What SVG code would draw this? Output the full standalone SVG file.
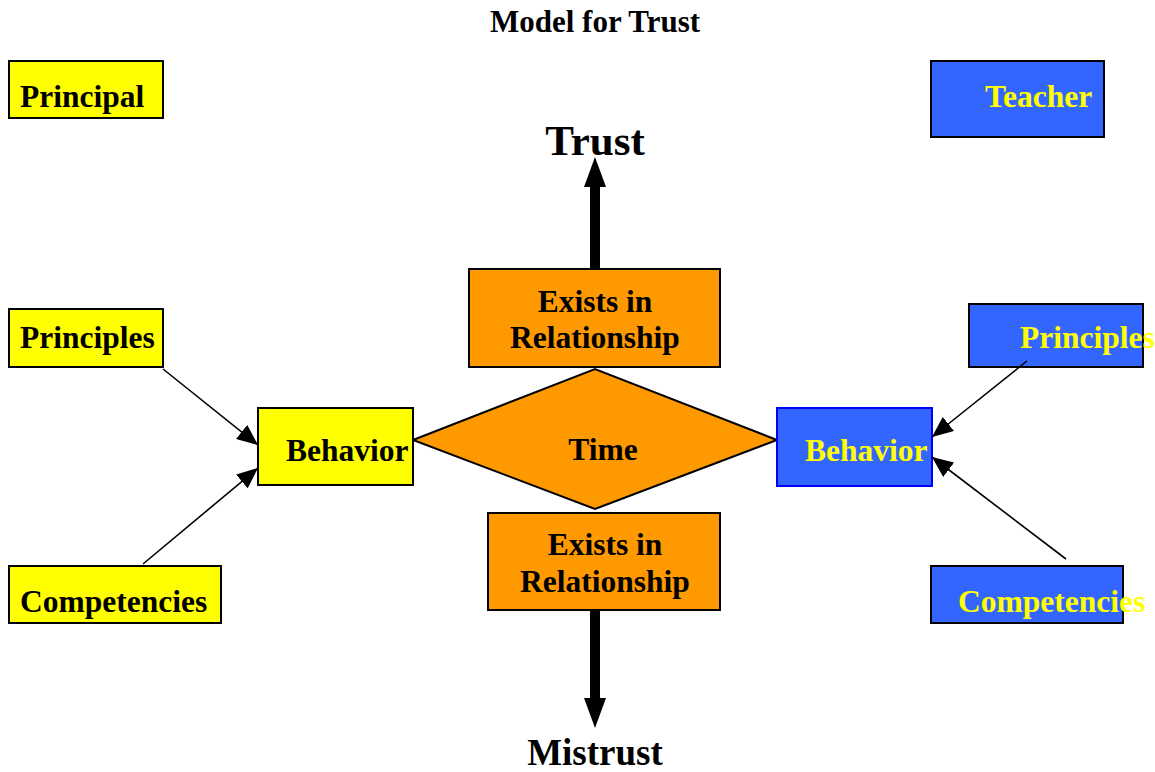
<svg xmlns="http://www.w3.org/2000/svg" width="1155" height="772" viewBox="0 0 1155 772">
<style>
text{font-family:"Liberation Serif","Times New Roman",serif;font-weight:bold;font-size:31.5px;}
.dark{fill:#000;}
.lite{fill:#FFFF00;}
.yel{fill:#FFFF00;stroke:#000;stroke-width:2;}
.blu{fill:#3366FF;stroke:#000;stroke-width:2;}
.org{fill:#FF9900;stroke:#000;stroke-width:2;}
.thin{stroke:#000;stroke-width:1.6;fill:none;marker-end:url(#ah);}
</style>
<defs>
<marker id="ah" markerUnits="userSpaceOnUse" markerWidth="22" markerHeight="18" refX="21" refY="9" orient="auto">
<path d="M0,0 L21,9 L0,18 Z" fill="#000"/>
</marker>
</defs>
<rect width="1155" height="772" fill="#fff"/>
<text x="595" y="32" text-anchor="middle" class="dark" style="font-size:31px">Model for Trust</text>

<g id="principal"><rect x="9" y="61" width="154" height="57" class="yel"/><text x="20" y="107" class="dark">Principal</text></g>
<g id="teacher"><rect x="931" y="61" width="173" height="76" class="blu"/><text x="985" y="107" class="lite">Teacher</text></g>
<g id="trust"><text x="595" y="155" text-anchor="middle" class="dark" style="font-size:43px">Trust</text></g>
<g id="rel-top"><rect x="469" y="269" width="251" height="98" class="org"/><text x="595" y="312" text-anchor="middle" class="dark">Exists in</text><text x="595" y="348" text-anchor="middle" class="dark">Relationship</text></g>
<g id="time"><polygon points="413,440 595,369 777,440 595,509" class="org"/><text x="603" y="460" text-anchor="middle" class="dark">Time</text></g>
<g id="rel-bottom"><rect x="488" y="513" width="232" height="97" class="org"/><text x="605" y="555" text-anchor="middle" class="dark">Exists in</text><text x="605" y="592" text-anchor="middle" class="dark">Relationship</text></g>
<g id="mistrust"><text x="595" y="765" text-anchor="middle" class="dark" style="font-size:37px">Mistrust</text></g>

<g id="principles-l"><rect x="9" y="309" width="154" height="58" class="yel"/><text x="20" y="348" class="dark">Principles</text></g>
<g id="behavior-l"><rect x="258" y="408" width="155" height="77" class="yel"/><text x="286" y="461" class="dark">Behavior</text></g>
<g id="competencies-l"><rect x="9" y="566" width="212" height="57" class="yel"/><text x="20" y="612" class="dark">Competencies</text></g>

<g id="principles-r"><rect x="969" y="304" width="174" height="63" class="blu"/><text x="1020" y="348" class="lite">Principles</text></g>
<g id="behavior-r"><rect x="777" y="408" width="155" height="78" fill="#3366FF" stroke="#0000FF" stroke-width="2"/><text x="805" y="461" class="lite">Behavior</text></g>
<g id="competencies-r"><rect x="931" y="566" width="192" height="57" class="blu"/><text x="958" y="612" class="lite">Competencies</text></g>

<g id="connectors">
<rect x="590" y="186" width="10" height="84" fill="#000"/>
<polygon points="584,187 606,187 595,157" fill="#000"/>
<rect x="590" y="610" width="10" height="89" fill="#000"/>
<polygon points="584,698 606,698 595,728" fill="#000"/>
<line x1="163" y1="369" x2="258" y2="445" class="thin"/>
<line x1="143" y1="564" x2="258" y2="468" class="thin"/>
<line x1="1027" y1="361" x2="932" y2="437" class="thin"/>
<line x1="1066" y1="559" x2="932" y2="457" class="thin"/>
</g>
</svg>
